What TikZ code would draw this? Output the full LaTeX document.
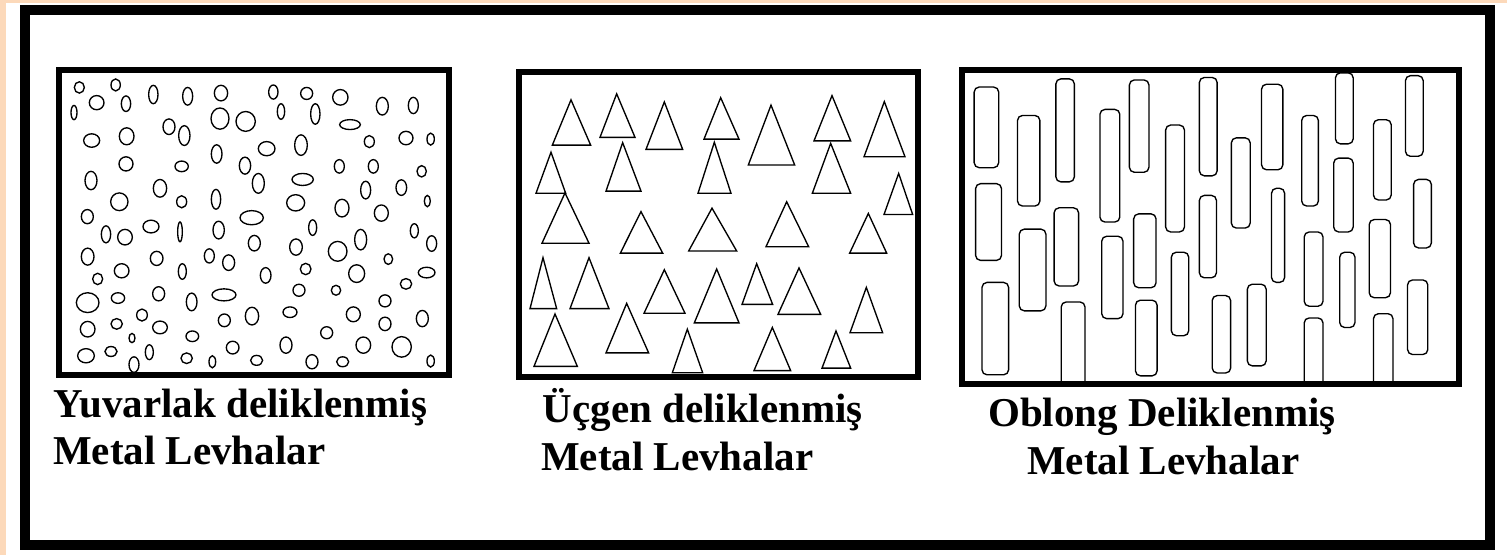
\documentclass[tikz,border=0pt]{standalone}
\usepackage{fontspec}
\setmainfont{Liberation Serif}
\definecolor{peach}{RGB}{252,217,186}
\tikzset{
  hole/.style={draw=black, line width=1.35pt},
  panel/.style={draw=black, line width=5.6pt},
  frameline/.style={draw=black, line width=10pt},
  lbl/.style={anchor=base west, inner sep=0pt, font=\bfseries\fontsize{41}{47}\selectfont, text=black}
}
\newcommand\holeE[4]{\draw[hole] (#1,#2) ellipse [x radius=#3/2, y radius=#4/2];}
\newcommand\holeT[5]{\draw[hole] (#1,#2) -- (#5,#3) -- (#4,#3) -- cycle;}
\newcommand\holeR[4]{\draw[hole, rounded corners=5pt] (#1,#3) rectangle (#2,#4);}
\begin{document}
\begin{tikzpicture}[x=1pt,y=-1pt]
\useasboundingbox (0,0) rectangle (1507,555);
\fill[white] (0,0) rectangle (1507,555);
\fill[peach] (0,0) rectangle (6,555);
\fill[peach] (0,0) rectangle (1507,2.7);
% outer frame
\draw[frameline] (25,10) rectangle (1490,545);

% ---------- panel 1: round holes ----------
\begin{scope}
\clip (61,72) rectangle (447,373);
\begin{scope}[x=0.33333pt, y=-0.35398pt]
\holeE{238}{247}{30}{32}
\holeE{347}{240}{28}{34}
\holeE{222}{318}{18}{40}
\holeE{290}{290}{44}{40}
\holeE{378}{293}{28}{44}
\holeE{460}{267}{28}{52}
\holeE{563}{272}{30}{50}
\holeE{663}{263}{40}{44}
\holeE{820}{260}{28}{40}
\holeE{920}{264}{36}{34}
\holeE{843}{315}{22}{44}
\holeE{946}{322}{28}{58}
\holeE{1021}{275}{46}{44}
\holeE{1147}{300}{36}{50}
\holeE{1240}{298}{30}{46}
\holeE{660}{335}{54}{60}
\holeE{737}{343}{58}{56}
\holeE{507}{358}{36}{44}
\holeE{553}{383}{34}{56}
\holeE{1050}{352}{62}{28}
\holeE{275}{397}{48}{38}
\holeE{380}{385}{44}{48}
\holeE{1108}{400}{30}{34}
\holeE{1218}{390}{42}{38}
\holeE{1292}{393}{22}{34}
\holeE{650}{435}{32}{52}
\holeE{800}{420}{50}{40}
\holeE{903}{410}{38}{58}
\holeE{378}{463}{42}{40}
\holeE{545}{470}{40}{30}
\holeE{735}{468}{34}{48}
\holeE{1018}{470}{30}{38}
\holeE{1120}{470}{30}{38}
\holeE{1265}{484}{28}{32}
\holeE{273}{510}{36}{52}
\holeE{775}{518}{36}{56}
\holeE{908}{507}{64}{34}
\holeE{480}{532}{40}{50}
\holeE{1097}{537}{30}{50}
\holeE{1204}{530}{32}{44}
\holeE{1282}{568}{18}{32}
\holeE{358}{570}{52}{50}
\holeE{545}{570}{30}{34}
\holeE{648}{563}{28}{56}
\holeE{887}{573}{54}{46}
\holeE{1026}{588}{42}{50}
\holeE{1144}{602}{42}{46}
\holeE{262}{612}{36}{40}
\holeE{318}{662}{28}{48}
\holeE{375}{670}{44}{44}
\holeE{453}{640}{48}{36}
\holeE{540}{655}{14}{56}
\holeE{656}{650}{34}{50}
\holeE{755}{615}{70}{40}
\holeE{938}{643}{24}{44}
\holeE{1243}{652}{24}{40}
\holeE{1295}{688}{30}{44}
\holeE{1082}{677}{36}{58}
\holeE{763}{687}{36}{44}
\holeE{888}{698}{38}{46}
\holeE{1013}{710}{56}{56}
\holeE{263}{725}{38}{48}
\holeE{470}{730}{38}{40}
\holeE{628}{723}{30}{40}
\holeE{686}{742}{36}{44}
\holeE{1165}{732}{26}{30}
\holeE{365}{765}{44}{40}
\holeE{293}{788}{30}{32}
\holeE{547}{767}{24}{44}
\holeE{797}{778}{32}{44}
\holeE{917}{760}{32}{32}
\holeE{1070}{773}{48}{50}
\holeE{1280}{770}{50}{30}
\holeE{1218}{802}{34}{30}
\holeE{263}{855}{68}{56}
\holeE{354}{842}{40}{30}
\holeE{476}{830}{36}{40}
\holeE{575}{853}{32}{50}
\holeE{672}{833}{72}{34}
\holeE{897}{820}{36}{34}
\holeE{1008}{820}{28}{28}
\holeE{1155}{850}{36}{34}
\holeE{263}{930}{44}{44}
\holeE{350}{915}{34}{30}
\holeE{426}{890}{32}{34}
\holeE{480}{925}{44}{36}
\holeE{673}{905}{36}{36}
\holeE{756}{893}{40}{50}
\holeE{870}{882}{42}{30}
\holeE{1060}{888}{42}{42}
\holeE{1155}{915}{36}{38}
\holeE{1267}{900}{36}{46}
\holeE{396}{955}{18}{26}
\holeE{577}{950}{38}{30}
\holeE{980}{940}{36}{34}
\holeE{258}{1005}{50}{40}
\holeE{333}{993}{36}{28}
\holeE{448}{995}{24}{42}
\holeE{402}{1030}{30}{44}
\holeE{560}{1012}{34}{30}
\holeE{637}{1022}{20}{34}
\holeE{698}{982}{38}{36}
\holeE{770}{1018}{36}{28}
\holeE{858}{975}{36}{46}
\holeE{936}{1022}{36}{40}
\holeE{1028}{1022}{36}{28}
\holeE{1090}{975}{44}{46}
\holeE{1205}{980}{58}{58}
\holeE{1292}{1020}{22}{34}
\end{scope}
\end{scope}
\draw[panel] (58.8,69.8) rectangle (449.2,375.2);

% ---------- panel 2: triangular holes ----------
\begin{scope}
\clip (521,74) rectangle (916,375);
\begin{scope}[xshift=500pt, x=0.33333pt, y=-0.35398pt]
\holeT{213}{282}{410}{157}{272}
\holeT{350}{265}{388}{300}{405}
\holeT{493}{288}{422}{438}{548}
\holeT{662}{276}{393}{612}{717}
\holeT{813}{297}{466}{745}{884}
\holeT{996}{270}{398}{942}{1052}
\holeT{1153}{287}{443}{1092}{1215}
\holeT{153}{430}{546}{108}{197}
\holeT{368}{403}{540}{318}{423}
\holeT{643}{402}{546}{594}{693}
\holeT{992}{405}{546}{937}{1052}
\holeT{1196}{490}{606}{1152}{1238}
\holeT{195}{545}{687}{126}{267}
\holeT{423}{598}{715}{361}{488}
\holeT{636}{588}{709}{566}{710}
\holeT{860}{570}{697}{798}{926}
\holeT{1105}{603}{715}{1049}{1160}
\holeT{129}{728}{872}{90}{170}
\holeT{267}{728}{872}{210}{327}
\holeT{493}{762}{885}{432}{555}
\holeT{650}{760}{912}{583}{717}
\holeT{770}{745}{860}{726}{818}
\holeT{897}{757}{888}{834}{962}
\holeT{1099}{812}{940}{1050}{1148}
\holeT{165}{887}{1035}{102}{232}
\holeT{380}{857}{997}{318}{446}
\holeT{562}{930}{1053}{517}{608}
\holeT{817}{925}{1047}{762}{872}
\holeT{1008}{935}{1040}{966}{1052}
\end{scope}
\end{scope}
\draw[panel] (518.8,71.8) rectangle (918.2,377.2);

% ---------- panel 3: oblong holes ----------
\begin{scope}
\clip (964,72) rectangle (1457,382);
\begin{scope}[xshift=950pt, x=0.35524pt, y=-0.35524pt]
\holeR{68}{137}{245}{472}
\holeR{72}{145}{517}{733}
\holeR{90}{165}{795}{1055}
\holeR{190}{253}{325}{580}
\holeR{195}{270}{645}{875}
\holeR{298}{350}{222}{512}
\holeR{293}{362}{585}{805}
\holeR{313}{380}{850}{1110}
\holeR{422}{478}{308}{625}
\holeR{427}{487}{665}{897}
\holeR{505}{560}{225}{485}
\holeR{517}{580}{602}{810}
\holeR{522}{583}{845}{1058}
\holeR{607}{660}{352}{653}
\holeR{623}{672}{710}{945}
\holeR{702}{752}{218}{495}
\holeR{702}{750}{550}{782}
\holeR{738}{790}{832}{1050}
\holeR{792}{845}{388}{642}
\holeR{837}{890}{800}{1030}
\holeR{877}{937}{237}{478}
\holeR{905}{942}{530}{795}
\holeR{990}{1037}{325}{580}
\holeR{997}{1050}{653}{862}
\holeR{997}{1050}{895}{1110}
\holeR{1085}{1135}{205}{405}
\holeR{1080}{1135}{445}{653}
\holeR{1097}{1140}{710}{922}
\holeR{1192}{1242}{337}{563}
\holeR{1180}{1240}{618}{838}
\holeR{1192}{1247}{883}{1110}
\holeR{1282}{1332}{213}{440}
\holeR{1305}{1355}{505}{698}
\holeR{1288}{1345}{788}{998}
\end{scope}
\end{scope}
\draw[panel] (961.8,69.8) rectangle (1459.2,384.2);

% ---------- captions ----------
\node[lbl] (t1a) at (53.5,417.5) {Yuvarlak deliklenmiş};
\node[lbl] (t1b) at (53,464) {Metal Levhalar};
\node[lbl] (t2a) at (542.5,422) {Üçgen deliklenmiş};
\node[lbl] (t2b) at (541,470) {Metal Levhalar};
\node[lbl] (t3a) at (988,426) {Oblong Deliklenmiş};
\node[lbl] (t3b) at (1027,474) {Metal Levhalar};
\end{tikzpicture}
\end{document}
